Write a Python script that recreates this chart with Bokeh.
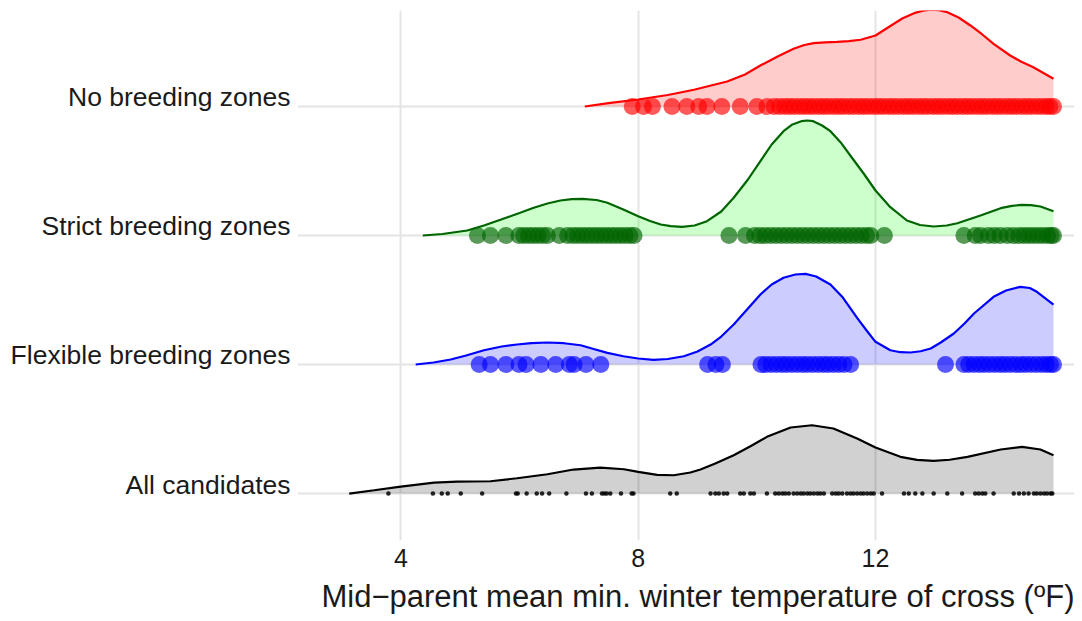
from bokeh.plotting import figure
from bokeh.models import FixedTicker, Span, CustomJSTickFormatter, Title
from bokeh.embed import file_html
from bokeh.resources import INLINE

# ---------------- data ----------------
groups = ["All candidates", "Flexible breeding zones", "Strict breeding zones", "No breeding zones"]
x_ticks = [4, 8, 12]
x_title = "Mid\u2212parent mean min. winter temperature of cross (\u00baF)"

# density curves (x, scaled density)
no_dens_x = [7.10, 7.5, 8.0, 8.5, 8.94, 9.5, 9.8, 10.06, 10.35, 10.62, 10.8, 10.96, 11.15, 11.35, 11.55,
             11.75, 12.0, 12.31, 12.45, 12.65, 12.8, 12.93, 13.07, 13.21, 13.4, 13.6, 13.8, 13.99,
             14.27, 14.45, 14.66, 15.0]
no_dens_h = [0, 3.3, 7, 11.5, 16.7, 25, 32, 41, 50, 57.7, 61.5, 63.3, 64.2, 64.7, 65.4,
             66.7, 71, 82.7, 88, 93.3, 95.8, 96.7, 96.2, 94.3, 89, 81, 72, 62.7,
             51, 45, 39.3, 27.7]

strict_dens_x = [4.37, 4.7, 5.12, 5.4, 5.69, 6.0, 6.24, 6.47, 6.69, 6.88, 7.06, 7.3, 7.48, 7.75, 8.0,
                 8.2, 8.38, 8.55, 8.74, 8.95, 9.16, 9.4, 9.61, 9.85, 10.06, 10.25, 10.45, 10.6,
                 10.75, 10.85, 10.95, 11.1, 11.24, 11.41, 11.6, 11.8, 12.0, 12.25, 12.53, 12.75,
                 12.98, 13.2, 13.38, 13.77, 14.11, 14.3, 14.47, 14.62, 14.78, 15.0]
strict_dens_h = [0, 1.5, 5, 10, 16, 22.5, 27.7, 32, 35, 36.4, 36.7, 35.5, 32.7, 26, 19.3,
                 14.5, 11, 9.3, 8.7, 10, 14.3, 24, 37.7, 56, 74.3, 91, 104.3, 111,
                 114.3, 115, 114.3, 110, 104.3, 93.3, 78, 62, 45, 28.3, 15, 10.5,
                 9, 10, 12.3, 20, 27.3, 29.6, 30.7, 30.4, 29, 24.3]

flex_dens_x = [4.25, 4.55, 4.84, 5.1, 5.4, 5.7, 5.96, 6.2, 6.47, 6.75, 7.03, 7.25, 7.48, 7.75, 8.0,
               8.26, 8.5, 8.77, 9.0, 9.22, 9.4, 9.61, 9.85, 10.06, 10.25, 10.45, 10.65, 10.82, 11.0,
               11.24, 11.45, 11.69, 11.85, 12.0, 12.25, 12.42, 12.59, 12.76, 12.93, 13.1, 13.32,
               13.5, 13.66, 13.99, 14.2, 14.44, 14.6, 14.72, 15.0]
flex_dens_h = [0, 2, 5, 9, 14.3, 18, 20, 21.3, 22, 21.3, 19.3, 15.5, 11.7, 8.3, 6,
               4.7, 5.5, 8.3, 13, 20, 28, 40, 56, 70, 80, 86.7, 90, 90.7, 88,
               80, 67, 46.7, 34, 22.7, 14.3, 12.3, 12, 13.3, 16, 22, 31,
               41, 51, 67.7, 74, 77.7, 76.5, 72.7, 60]

all_dens_x = [3.13, 3.55, 4.0, 4.56, 4.95, 5.51, 5.96, 6.47, 6.91, 7.36, 7.76, 8.0, 8.32, 8.6, 8.88,
              9.05, 9.3, 9.61, 9.9, 10.17, 10.57, 10.93, 11.29, 11.69, 12.0, 12.42, 12.7, 12.98,
              13.25, 13.55, 14.11, 14.47, 14.78, 15.0]
all_dens_h = [0, 3.3, 7, 11, 12, 12.3, 15.3, 19.3, 24, 26, 24.3, 21.7, 18.7, 18.3, 21,
              24, 30, 38.3, 47.5, 56.7, 66, 68.3, 65, 55, 46, 36.7, 33.6, 32.7,
              33.8, 36.7, 44, 46.7, 44, 38.3]

# observed crosses (x values) per group
no_pts = [7.90, 8.09, 8.24, 8.57, 8.82, 9.02, 9.16, 9.41, 9.72, 10.0, 10.17,
          10.29, 10.38, 10.47, 10.55, 10.63, 10.72, 10.8, 10.88, 10.96, 11.05, 11.13, 11.21,
          11.3, 11.38, 11.46, 11.55, 11.63, 11.72, 11.8, 11.88, 11.97, 12.05, 12.13, 12.22,
          12.3, 12.38, 12.47, 12.55, 12.63, 12.72, 12.8, 12.88, 12.97, 13.05, 13.13, 13.22,
          13.3, 13.38, 13.47, 13.55, 13.63, 13.72, 13.8, 13.88, 13.97, 14.05, 14.13, 14.22,
          14.3, 14.38, 14.47, 14.55, 14.63, 14.72, 14.8, 14.88, 14.94, 15.0]
strict_pts = [5.29, 5.51, 5.77, 5.99, 6.07, 6.15, 6.23, 6.31, 6.39, 6.47, 6.67, 6.81, 6.9, 6.98,
              7.06, 7.14, 7.22, 7.3, 7.38, 7.46, 7.54, 7.62, 7.7, 7.78, 7.86, 7.93,
              9.53, 9.81, 9.96, 10.05, 10.14, 10.23, 10.32, 10.41, 10.5, 10.59, 10.68, 10.77,
              10.86, 10.95, 11.04, 11.13, 11.22, 11.31, 11.4, 11.49, 11.58, 11.67, 11.76, 11.85,
              11.92, 12.15,
              13.49, 13.68, 13.77, 13.9, 14.0, 14.1, 14.22, 14.32, 14.42, 14.5, 14.58, 14.66,
              14.74, 14.82, 14.9, 14.96, 15.0]
flex_pts = [5.32, 5.51, 5.77, 5.99, 6.11, 6.36, 6.61, 6.84, 6.92, 7.12, 7.37,
            9.17, 9.31, 9.42,
            10.07, 10.15, 10.24, 10.33, 10.42, 10.5, 10.59, 10.68, 10.77, 10.85, 10.94, 11.03,
            11.12, 11.2, 11.29, 11.38, 11.47, 11.58,
            13.18,
            13.49, 13.57, 13.66, 13.75, 13.83, 13.92, 14.01, 14.1, 14.18, 14.27, 14.36, 14.45,
            14.53, 14.62, 14.71, 14.8, 14.88, 14.95, 15.0]
all_pts = [3.79, 4.54, 4.69, 4.79, 5.01, 5.37, 5.94, 5.97, 6.12, 6.29, 6.38, 6.50, 6.79, 7.12,
           7.22, 7.39, 7.43, 7.47, 7.53, 7.71, 7.89, 7.92, 8.54, 8.65,
           9.22, 9.30, 9.36, 9.44, 9.50, 9.72, 9.78, 9.89, 9.95, 10.17, 10.31, 10.37, 10.43,
           10.48, 10.54, 10.62, 10.68, 10.74, 10.79, 10.85, 10.90, 10.96, 11.02, 11.07, 11.13,
           11.27, 11.33, 11.38, 11.44, 11.52, 11.58, 11.63, 11.69, 11.75, 11.80, 11.86, 11.92,
           11.97, 12.11, 12.48, 12.56, 12.67, 12.79, 12.98, 13.21, 13.46, 13.68, 13.74, 13.80,
           13.85, 13.99, 14.33, 14.42, 14.50, 14.58, 14.67, 14.72, 14.78, 14.84, 14.89, 14.95,
           14.98]

# ---------------- styles ----------------
FONT = "Liberation Sans"
TXT = "#1a1a1a"
GRID = "#e4e4e4"
DENS_SCALE = 1.0 / 129.0          # scaled density -> ridge height units
LABEL_LIFT = 0.07                 # lifts category text so it sits on its baseline
X_START, X_END = 2.258, 15.354
Y_START, Y_END = -0.364, 3.744

ridges = [
    # (index, dens_x, dens_h, points, line colour, fill colour, fill alpha, pt colour, pt size, pt alpha)
    (3, no_dens_x, no_dens_h, no_pts, "#ff0000", "#ff0000", 0.2, "#ff0000", 17, 0.65),
    (2, strict_dens_x, strict_dens_h, strict_pts, "#006400", "#00ff00", 0.2, "#006400", 17, 0.65),
    (1, flex_dens_x, flex_dens_h, flex_pts, "#0000ff", "#0000ff", 0.2, "#0000ff", 17, 0.65),
    (0, all_dens_x, all_dens_h, all_pts, "#000000", "#000000", 0.18, "#000000", 4.5, 0.85),
]

p = figure(frame_width=777, frame_height=530, output_backend="svg", toolbar_location=None,
           x_range=(X_START, X_END), y_range=(Y_START, Y_END),
           min_border_left=297, min_border_right=0, min_border_top=10, min_border_bottom=0)
p.outline_line_color = None
p.background_fill_color = "white"
p.border_fill_color = "white"

# grid
p.xgrid.ticker = FixedTicker(ticks=x_ticks)
p.xgrid.grid_line_color = GRID
p.xgrid.grid_line_width = 2
p.ygrid.visible = False
for i in range(len(groups)):
    p.add_layout(Span(location=i, dimension="width", line_color=GRID, line_width=2, level="underlay"))

# x axis
xa = p.xaxis[0]
xa.ticker = FixedTicker(ticks=x_ticks)
xa.axis_line_color = None
xa.major_tick_line_color = None
xa.minor_tick_line_color = None
xa.major_tick_out = 0
xa.major_tick_in = 0
xa.major_label_standoff = 8
xa.major_label_text_font = FONT
xa.major_label_text_font_size = "25px"
xa.major_label_text_color = TXT

# x axis title, right-aligned under the panel
p.add_layout(Title(text=x_title, align="right", text_font=FONT, text_font_size="31px",
                   text_font_style="normal", text_color=TXT, standoff=14), "below")

# y axis (category names)
ya = p.yaxis[0]
ya.ticker = FixedTicker(ticks=[i + LABEL_LIFT for i in range(len(groups))])
ya.formatter = CustomJSTickFormatter(args=dict(labels=groups), code="return labels[Math.round(tick)];")
ya.axis_line_color = None
ya.major_tick_line_color = None
ya.minor_tick_line_color = None
ya.major_tick_out = 0
ya.major_tick_in = 0
ya.major_label_standoff = 7
ya.major_label_text_font = FONT
ya.major_label_text_font_size = "26.5px"
ya.major_label_text_color = TXT

# ridges
for idx, dx, dh, pts, lc, fc, fa, pc, ps, pa in ridges:
    top = [idx + h * DENS_SCALE for h in dh]
    p.varea(x=dx, y1=[idx] * len(dx), y2=top, fill_color=fc, fill_alpha=fa)
    p.line(x=dx, y=top, line_color=lc, line_width=2.2)
    p.scatter(x=pts, y=[idx] * len(pts), size=ps, fill_color=pc, fill_alpha=pa,
              line_color=None, marker="circle")

open("out.html", "w").write(file_html(p, INLINE))
